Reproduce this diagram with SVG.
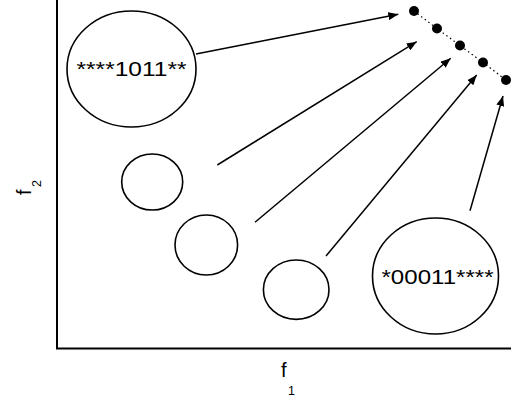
<svg xmlns="http://www.w3.org/2000/svg" width="511" height="397" viewBox="0 0 511 397">
  <style>
    .shape { fill: none; stroke: #000; stroke-width: 1.6; }
    .axis { fill: none; stroke: #000; stroke-width: 2; }
    .conn { fill: none; stroke: #000; stroke-width: 1.5; }
    .front { fill: none; stroke: #000; stroke-width: 1.2; stroke-dasharray: 1.5 3; }
    .pt { fill: #000; }
    .lbl { font-family: "Liberation Sans", Arial, sans-serif; font-size: 20.5px; fill: #000; }
    .ax { font-family: "Liberation Sans", Arial, sans-serif; font-size: 20px; fill: #000; }
    .sub { font-family: "Liberation Sans", Arial, sans-serif; font-size: 12.5px; fill: #000; }
  </style>
  <defs>
    <marker id="arrow" viewBox="0 0 10 8" refX="10" refY="4" markerWidth="10" markerHeight="8" markerUnits="userSpaceOnUse" orient="auto">
      <path d="M0,0 L10,4 L0,8 z" fill="#000"/>
    </marker>
  </defs>

  <!-- axes -->
  <g id="axes">
    <path class="axis" d="M57,0 V348.5 H511"/>
    <text class="ax" x="281" y="377">f</text>
    <text class="sub" x="288" y="395">1</text>
    <g transform="translate(31,195) rotate(-90)">
      <text class="ax" x="0" y="0">f</text>
      <text class="sub" x="8" y="10">2</text>
    </g>
  </g>

  <!-- Pareto front points -->
  <g id="front">
    <path class="front" d="M414,11 L437,28.5 L460,45.5 L483,62.5 L506,80"/>
    <circle class="pt" cx="414" cy="11" r="5"/>
    <circle class="pt" cx="437" cy="28.5" r="5"/>
    <circle class="pt" cx="460" cy="45.5" r="5"/>
    <circle class="pt" cx="483" cy="62.5" r="5"/>
    <circle class="pt" cx="506" cy="80" r="5"/>
  </g>

  <!-- schema regions -->
  <g id="schema1">
    <ellipse class="shape" cx="131.5" cy="69" rx="64.5" ry="58"/>
    <text class="lbl" x="131.5" y="76" text-anchor="middle" textLength="110" lengthAdjust="spacingAndGlyphs">****1011**</text>
  </g>
  <g id="regionA">
    <ellipse class="shape" cx="152.2" cy="182" rx="30.5" ry="28"/>
  </g>
  <g id="regionB">
    <ellipse class="shape" cx="206.3" cy="245" rx="31.3" ry="30"/>
  </g>
  <g id="regionC">
    <ellipse class="shape" cx="296.2" cy="289.7" rx="32.8" ry="29.7"/>
  </g>
  <g id="schema2">
    <ellipse class="shape" cx="435.5" cy="276" rx="63" ry="58"/>
    <text class="lbl" x="437.5" y="284" text-anchor="middle" textLength="112" lengthAdjust="spacingAndGlyphs">*00011****</text>
  </g>

  <!-- connectors -->
  <g id="connectors">
    <line class="conn" x1="196" y1="54" x2="398.3" y2="14.3" marker-end="url(#arrow)"/>
    <line class="conn" x1="217.3" y1="165" x2="416.7" y2="41.7" marker-end="url(#arrow)"/>
    <line class="conn" x1="255" y1="222.3" x2="450.7" y2="58.3" marker-end="url(#arrow)"/>
    <line class="conn" x1="326" y1="256" x2="476.7" y2="75" marker-end="url(#arrow)"/>
    <line class="conn" x1="470" y1="210.7" x2="503" y2="96" marker-end="url(#arrow)"/>
  </g>
</svg>
